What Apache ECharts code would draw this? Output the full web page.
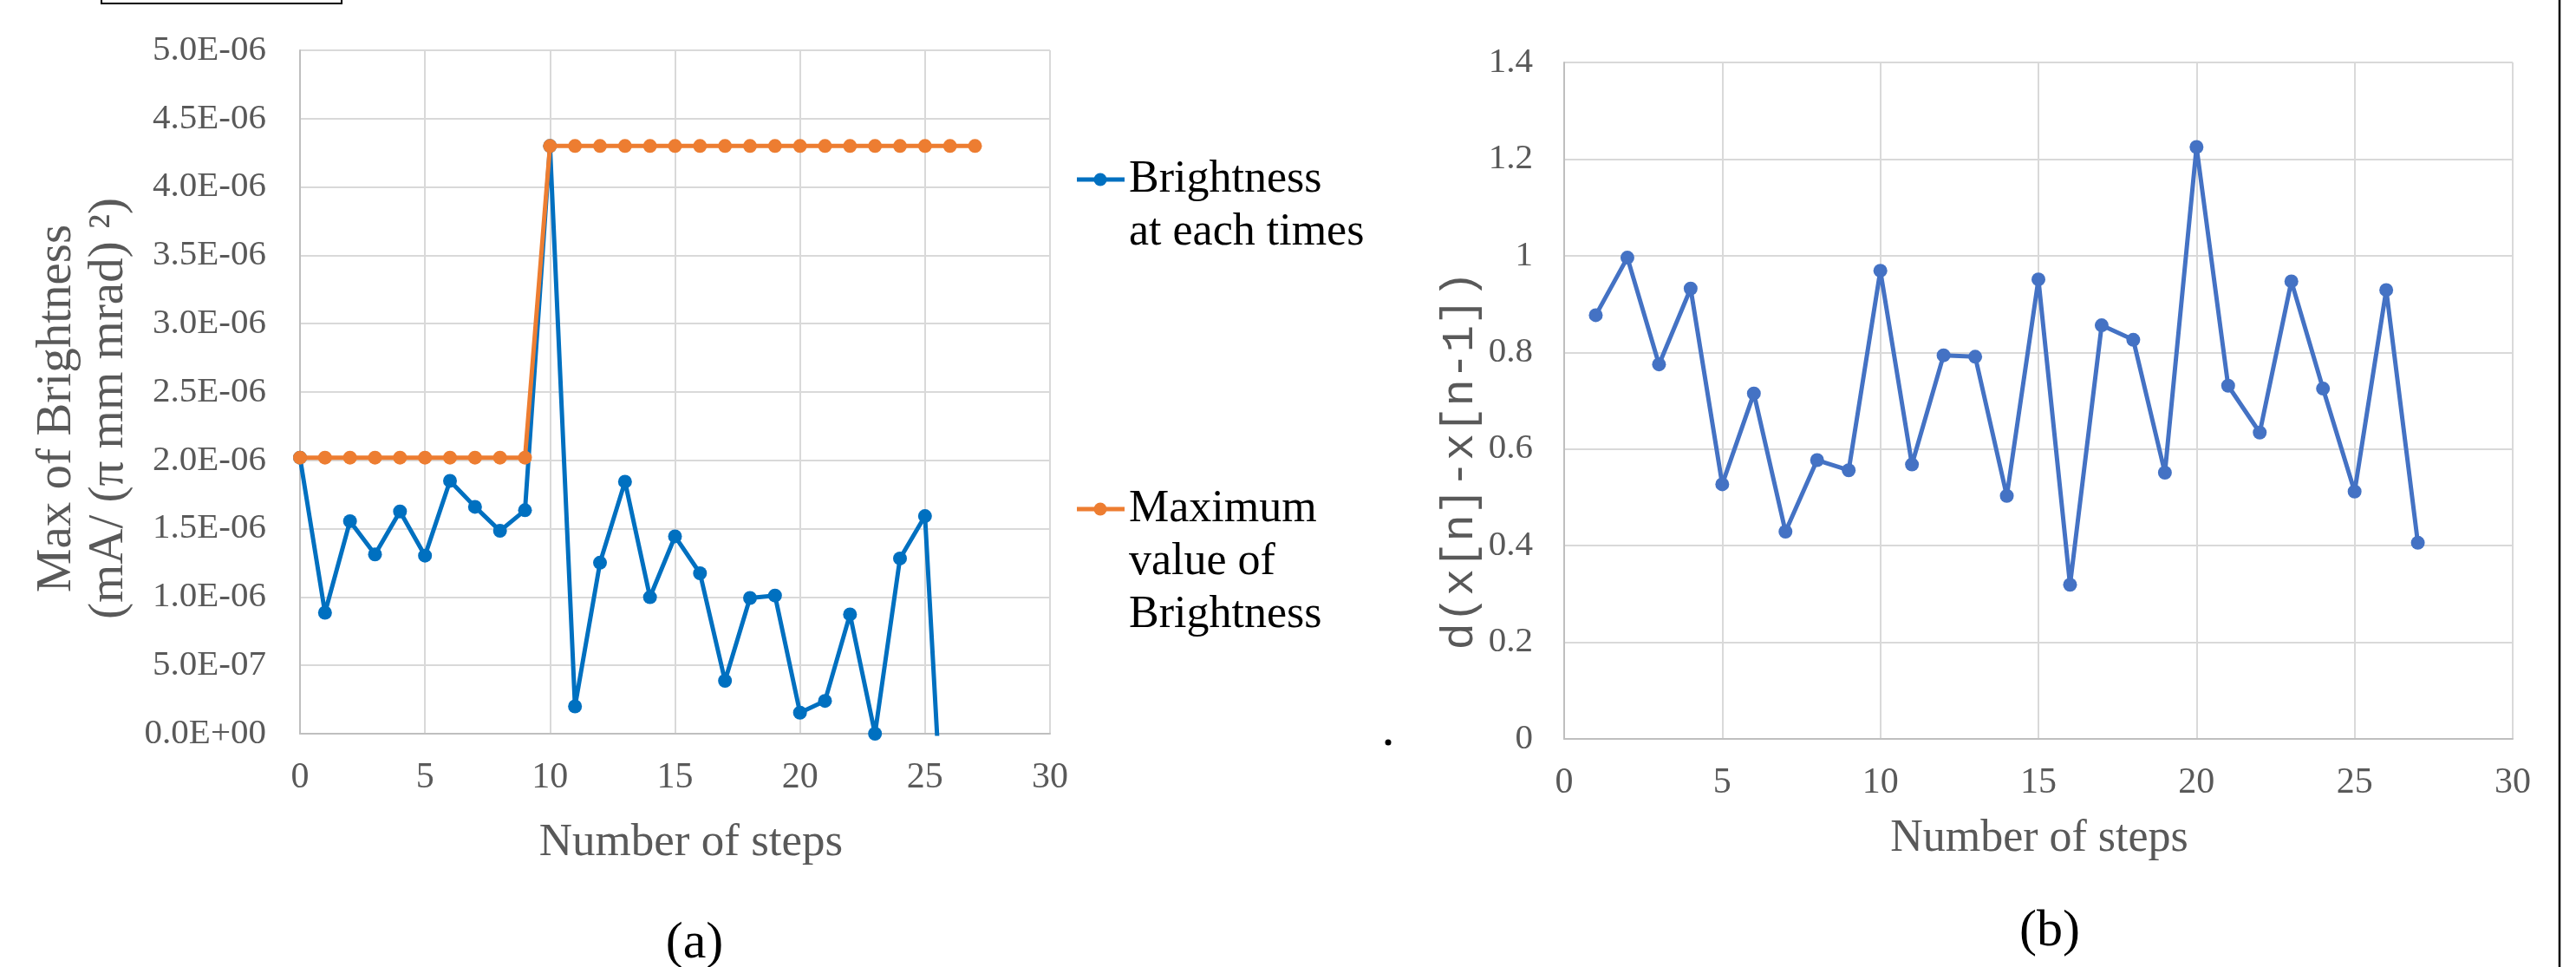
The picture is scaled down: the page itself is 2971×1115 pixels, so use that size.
<!DOCTYPE html>
<html>
<head>
<meta charset="utf-8">
<script src="https://cdn.jsdelivr.net/npm/echarts@6/dist/echarts.min.js"></script>
<style>
html,body{margin:0;padding:0;background:#fff;}
#chart{width:2971px;height:1115px;}
</style>
</head>
<body>
<div id="chart"></div>
<script>
// ---- Data (a) ----
const stepsA = [0,1,2,3,4,5,6,7,8,9,10,11,12,13,14,15,16,17,18,19,20,21,22,23,24,25,26];
const brightness = [2.02e-6,0.885e-6,1.555e-6,1.312e-6,1.626e-6,1.303e-6,1.850e-6,1.660e-6,1.484e-6,1.635e-6,
  4.30e-6,0.200e-6,1.251e-6,1.844e-6,0.999e-6,1.444e-6,1.174e-6,0.387e-6,0.993e-6,1.011e-6,
  0.154e-6,0.240e-6,0.873e-6,0.0,1.282e-6,1.592e-6,-1.72e-6];
const stepsMax = [0,1,2,3,4,5,6,7,8,9,10,11,12,13,14,15,16,17,18,19,20,21,22,23,24,25,26,27];
const maxBrightness = [2.02e-6,2.02e-6,2.02e-6,2.02e-6,2.02e-6,2.02e-6,2.02e-6,2.02e-6,2.02e-6,2.02e-6,
  4.30e-6,4.30e-6,4.30e-6,4.30e-6,4.30e-6,4.30e-6,4.30e-6,4.30e-6,4.30e-6,4.30e-6,
  4.30e-6,4.30e-6,4.30e-6,4.30e-6,4.30e-6,4.30e-6,4.30e-6,4.30e-6];
// ---- Data (b) ----
const stepsB = [1,2,3,4,5,6,7,8,9,10,11,12,13,14,15,16,17,18,19,20,21,22,23,24,25,26,27];
const diffValues = [0.877,0.996,0.775,0.932,0.527,0.715,0.429,0.577,0.556,0.969,
  0.568,0.794,0.791,0.503,0.951,0.319,0.856,0.826,0.551,1.225,
  0.731,0.634,0.947,0.725,0.512,0.929,0.406];
// ---- Text ----
const legendNames = ['Brightness\nat each times', 'Maximum\nvalue of\nBrightness'];
const xTitle = 'Number of steps';
const yTitleA1 = 'Max of Brightness';
const yTitleA2 = '(mA/ (π mm mrad) ²)';
const yTitleB = 'd(x[n]-x[n-1])';

const FONT = 'Liberation Serif';
const GREY = '#595959';
const GRID = '#D9D9D9';

function sci(v){
  if (Math.abs(v) < 1e-15) return '0.0E+00';
  const s = v.toExponential(1);
  const parts = s.split('e');
  const ex = parseInt(parts[1], 10);
  const sign = ex < 0 ? '-' : '+';
  const n = Math.abs(ex);
  return parts[0] + 'E' + sign + (n < 10 ? '0' : '') + n;
}

const pairs = (xs, ys) => xs.map((x, i) => [x, ys[i]]);

function xAxisCfg(gridIndex){
  return {
    type: 'value', gridIndex: gridIndex, min: 0, max: 30, interval: 5,
    axisLine: {show: true, lineStyle: {color: '#BFBFBF', width: 2}},
    axisTick: {show: false},
    axisLabel: {color: GREY, fontFamily: FONT, fontSize: 42, margin: 30},
    splitLine: {show: true, lineStyle: {color: GRID, width: 2}}
  };
}

const chart = echarts.init(document.getElementById('chart'), null, {renderer: 'canvas'});

function legendItem(y, color, lines){
  const els = [
    {type: 'line', shape: {x1: 1242, y1: y, x2: 1297, y2: y}, style: {stroke: color, lineWidth: 5}},
    {type: 'circle', shape: {cx: 1269, cy: y, r: 7.5}, style: {fill: color}}
  ];
  lines.forEach((t, i) => {
    els.push({type: 'text', x: 1302, y: y + i * 61,
      style: {text: t, fill: '#000', font: '52px "' + FONT + '"', textAlign: 'left', textVerticalAlign: 'middle'}});
  });
  return els;
}

const graphics = [].concat(
  legendItem(207, '#0070C0', legendNames[0].split('\n')),
  legendItem(587, '#ED7D31', legendNames[1].split('\n')),
  [
    {type: 'text', x: 66, y: 471, rotation: Math.PI/2,
      style: {text: yTitleA1, fill: GREY, font: '57px "' + FONT + '"', textAlign: 'center', textVerticalAlign: 'middle'}},
    {type: 'text', x: 126, y: 471, rotation: Math.PI/2,
      style: {text: yTitleA2, fill: GREY, font: '57px "' + FONT + '"', textAlign: 'center', textVerticalAlign: 'middle'}},
    {type: 'text', x: 1684, y: 531, rotation: Math.PI/2,
      style: {text: yTitleB, fill: GREY, font: '52px "Liberation Mono"', textAlign: 'center', textVerticalAlign: 'middle'}},
    {type: 'text', x: 797, y: 972,
      style: {text: xTitle, fill: GREY, font: '53px "' + FONT + '"', textAlign: 'center', textVerticalAlign: 'middle'}},
    {type: 'text', x: 2352, y: 967,
      style: {text: xTitle, fill: GREY, font: '52px "' + FONT + '"', textAlign: 'center', textVerticalAlign: 'middle'}},
    {type: 'text', x: 801, y: 1088,
      style: {text: '(a)', fill: '#000', font: '60px "' + FONT + '"', textAlign: 'center', textVerticalAlign: 'middle'}},
    {type: 'text', x: 2364, y: 1074,
      style: {text: '(b)', fill: '#000', font: '60px "' + FONT + '"', textAlign: 'center', textVerticalAlign: 'middle'}},
    {type: 'circle', shape: {cx: 1601, cy: 856, r: 3.5}, style: {fill: '#000'}},
    {type: 'polyline', shape: {points: [[117, -5], [117, 4], [394, 4], [394, -5]]}, style: {stroke: '#000', lineWidth: 2, fill: null}},
    {type: 'line', shape: {x1: 2952, y1: 0, x2: 2952, y2: 1115}, style: {stroke: '#000', lineWidth: 2.5}}
  ]
);

chart.setOption({
  animation: false,
  backgroundColor: '#fff',
  grid: [
    {left: 346, top: 58, right: 2971 - 1211, bottom: 1115 - 846, containLabel: false},
    {left: 1804, top: 72, right: 2971 - 2898, bottom: 1115 - 852, containLabel: false}
  ],
  xAxis: [xAxisCfg(0), xAxisCfg(1)],
  yAxis: [
    {
      type: 'value', gridIndex: 0, min: 0, max: 5e-6, interval: 5e-7,
      axisLine: {show: true, lineStyle: {color: '#BFBFBF', width: 2}},
      axisTick: {show: false},
      axisLabel: {color: GREY, fontFamily: FONT, fontSize: 41, margin: 39, formatter: sci},
      splitLine: {show: true, lineStyle: {color: GRID, width: 2}}
    },
    {
      type: 'value', gridIndex: 1, min: 0, max: 1.4, interval: 0.2,
      axisLine: {show: true, lineStyle: {color: '#BFBFBF', width: 2}},
      axisTick: {show: false},
      axisLabel: {color: GREY, fontFamily: FONT, fontSize: 41, margin: 36},
      splitLine: {show: true, lineStyle: {color: GRID, width: 2}}
    }
  ],
  series: [
    {
      name: 'Brightness at each times', type: 'line', xAxisIndex: 0, yAxisIndex: 0,
      data: pairs(stepsA, brightness), clip: true,
      symbol: 'circle', symbolSize: 16, showAllSymbol: true,
      lineStyle: {color: '#0070C0', width: 5}, itemStyle: {color: '#0070C0'},
      emphasis: {disabled: true}, z: 2
    },
    {
      name: 'Maximum value of Brightness', type: 'line', xAxisIndex: 0, yAxisIndex: 0,
      data: pairs(stepsMax, maxBrightness), clip: true,
      symbol: 'circle', symbolSize: 16, showAllSymbol: true,
      lineStyle: {color: '#ED7D31', width: 5}, itemStyle: {color: '#ED7D31'},
      emphasis: {disabled: true}, z: 3
    },
    {
      name: yTitleB, type: 'line', xAxisIndex: 1, yAxisIndex: 1,
      data: pairs(stepsB, diffValues), clip: true,
      symbol: 'circle', symbolSize: 16, showAllSymbol: true,
      lineStyle: {color: '#4472C4', width: 5}, itemStyle: {color: '#4472C4'},
      emphasis: {disabled: true}, z: 2
    }
  ],
  graphic: graphics
});
</script>
</body>
</html>
